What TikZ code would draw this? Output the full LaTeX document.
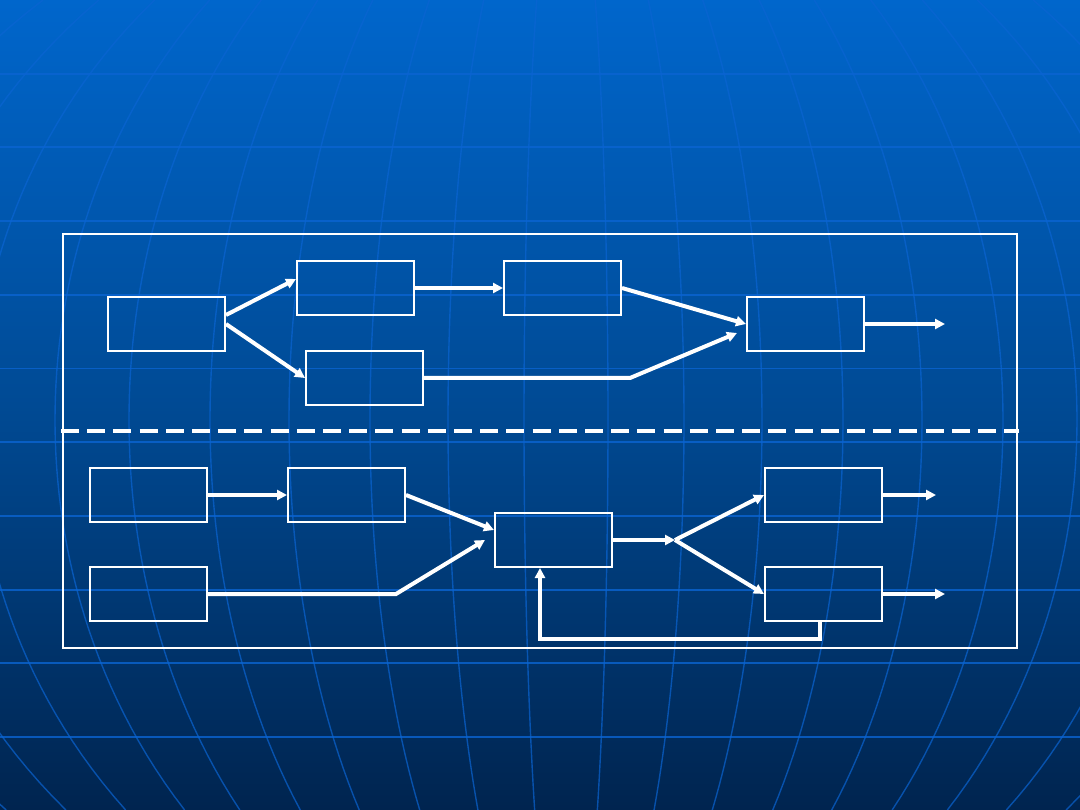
\documentclass[tikz,border=0pt]{standalone}
\usepackage{tikz}
\usetikzlibrary{arrows.meta}
\definecolor{bgtop}{HTML}{0066CC}
\definecolor{bgmid}{HTML}{004A94}
\definecolor{bgbot}{HTML}{00244F}
\definecolor{gridblue}{HTML}{0A64D2}

\begin{document}
\begin{tikzpicture}[x=1pt,y=-1pt,>={Triangle[length=10pt,width=10pt]},
  blk/.style={draw=white,line width=2pt,minimum width=117pt,minimum height=54pt,inner sep=0pt},
  flow/.style={->,white,line width=4pt},
  lat/.style={gridblue,line width=1.8pt,opacity=0.8},
  lon/.style={gridblue,line width=1.4pt,opacity=0.7}]
\shade[top color=bgtop,bottom color=bgbot,middle color=bgmid] (0,0) rectangle (1080,810);
\useasboundingbox (0,0) rectangle (1080,810);
% globe grid
\begin{scope}
\clip (0,0) rectangle (1080,810);
\foreach \k in {1,...,10}
  \draw[lat] (0,73.7*\k) -- (1080,73.7*\k);
\foreach \m in {42,118,196,277,356,437,511,590,670,750,830} {
  \draw[lon] plot[domain=0:810,samples=60,variable=\t] ({566-\m*sqrt(1-((\t-420)/586)^2)},\t);
  \draw[lon] plot[domain=0:810,samples=60,variable=\t] ({566+\m*sqrt(1-((\t-420)/586)^2)},\t);
}
\end{scope}
\draw[white,line width=2pt] (62.7,234) rectangle (1016.5,647.5);
\draw[white,line width=4pt,dash pattern=on 18pt off 8.2pt] (61,431.5) -- (1019,431.5);
% upper chain
\node[blk] (in1) at (166.5,324) {};
\node[blk] (up1) at (355.5,288) {};
\node[blk] (lo1) at (364.5,378) {};
\node[blk] (up2) at (562.5,288) {};
\node[blk] (join) at (805.5,324) {};
\coordinate (bendC) at (630,378);
\coordinate (out1) at (945,324);
\draw[flow] ([yshift=9pt]in1.east) -- ([yshift=9pt]up1.west);
\draw[flow] (in1.east) -- (lo1.west);
\draw[flow] (up1.east) -- (up2.west);
\draw[flow] (up2.east) -- (join.west);
\draw[flow] (lo1.east) -- (bendC) -- ([xshift=-9pt,yshift=-9pt]join.west);
\draw[flow] (join.east) -- (out1);
% lower chain
\node[blk] (srcA) at (148.5,495) {};
\node[blk] (stepA) at (346.5,495) {};
\node[blk] (srcB) at (148.5,594) {};
\node[blk] (core) at (553.5,540) {};
\node[blk] (outA) at (823.5,495) {};
\node[blk] (outB) at (823.5,594) {};
\coordinate (bendH) at (396,594);
\coordinate (split) at (675,540);
\coordinate (fb) at (540,639);
\coordinate (out2) at (936,495);
\coordinate (out3) at (945,594);
\draw[flow] (srcA.east) -- (stepA.west);
\draw[flow] (stepA.east) -- ([yshift=10pt]core.west);
\draw[flow] (srcB.east) -- (bendH) -- ([xshift=-9pt]core.west);
\draw[flow] (core.east) -- (split);
\draw[flow] (split) -- (outA.west);
\draw[flow] (split) -- (outB.west);
\draw[flow] (outA.east) -- (out2);
\draw[flow] (outB.east) -- (out3);
\draw[flow] ([xshift=-4pt]outB.south) |- (fb) -- ([xshift=-13.5pt]core.south);
\end{tikzpicture}
\end{document}
